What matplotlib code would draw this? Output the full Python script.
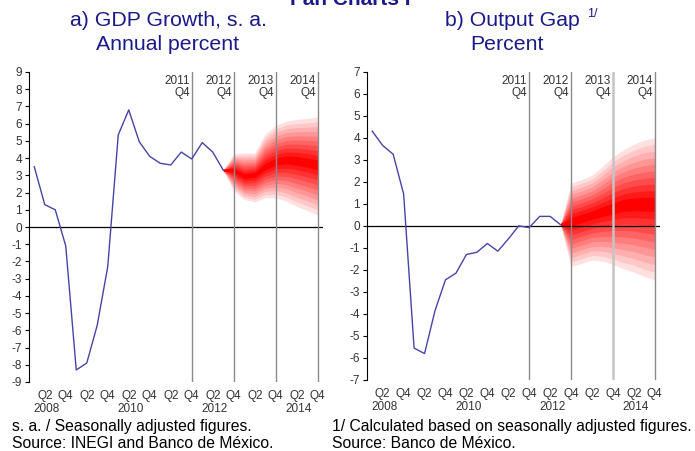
import matplotlib
matplotlib.use('Agg')
import matplotlib.pyplot as plt
import numpy as np

plt.rcParams['font.family'] = ['Liberation Sans', 'DejaVu Sans']
plt.rcParams['axes.unicode_minus'] = False

# quarters 2008Q1 .. 2014Q4
quarters = [f'{y}Q{q}' for y in range(2008, 2015) for q in range(1, 5)]

# a) GDP growth, observed 2008Q1 .. 2012Q3
gdp_obs = [3.5, 1.3, 1.0, -1.1, -8.3, -7.9, -5.7, -2.3, 5.35, 6.8, 4.95, 4.1,
           3.7, 3.6, 4.35, 3.95, 4.9, 4.35, 3.3]
# fan 2012Q3 .. 2014Q4
gdp_mid = [3.3, 3.3, 2.95, 3.05, 3.5, 3.8, 3.9, 3.85, 3.75, 3.6]
gdp_up = [3.3, 4.25, 4.3, 4.3, 5.4, 5.9, 6.15, 6.25, 6.3, 6.4]
gdp_lo = [3.3, 2.1, 1.6, 1.45, 1.7, 1.7, 1.5, 1.2, 0.95, 0.7]

# b) Output gap, observed 2008Q1 .. 2012Q3
gap_obs = [4.3, 3.65, 3.25, 1.45, -5.55, -5.8, -3.85, -2.45, -2.15, -1.3, -1.2,
           -0.8, -1.15, -0.6, 0.0, -0.08, 0.43, 0.43, 0.05]
gap_mid = [0.05, 0.2, 0.35, 0.5, 0.65, 0.8, 0.95, 1.0, 1.0, 1.0]
gap_up = [0.05, 1.95, 2.1, 2.3, 2.7, 3.15, 3.45, 3.7, 3.9, 4.0]
gap_lo = [0.05, -1.85, -1.7, -1.55, -1.6, -1.75, -1.95, -2.1, -2.3, -2.45]

# fan band levels (share of distance from central path to outer bound)
levels = [1.0, 0.9, 0.8, 0.7, 0.6, 0.5, 0.4, 0.3, 0.2, 0.1]

vlines = ['2011Q4', '2012Q4', '2013Q4', '2014Q4']
navy = '#1a1a8a'
line_col = '#4545a8'
txt_col = '#333333'


def fan_chart(ax, obs, mid, up, lo, ylim, light_idx=None):
    x_obs = np.arange(len(obs))
    x_fan = np.arange(len(obs) - 1, len(obs) - 1 + len(mid))
    mid = np.array(mid)
    up = np.array(up)
    lo = np.array(lo)
    n = len(levels)
    for i, lv in enumerate(levels):
        t = i / (n - 1)
        g = 0.88 * (1 - t)
        ax.fill_between(x_fan, mid - lv * (mid - lo), mid + lv * (up - mid),
                        color=(1, g, g), lw=0, zorder=2)
    ax.fill_between(x_fan, mid - 0.08, mid + 0.08, color='#ff0000', lw=0, zorder=2)
    ax.plot(x_obs, obs, color=line_col, lw=1.0, zorder=4)

    ax.axhline(0, color='black', lw=0.9, zorder=3)
    for k, q in enumerate(vlines):
        xi = quarters.index(q)
        c = '#c4c4c4' if k == light_idx else '#8a8a8a'
        w = 1.8 if k == light_idx else 1.0
        ax.axvline(xi, color=c, lw=w, zorder=3)
        ax.text(xi - 0.2, 0.99, q[:4] + '\n' + q[4:], transform=ax.get_xaxis_transform(),
                ha='right', va='top', fontsize=8.5, color=txt_col, linespacing=1.0)

    ax.set_xlim(-0.5, len(quarters) - 0.5)
    ax.set_ylim(*ylim)
    ax.set_yticks(range(ylim[0], ylim[1] + 1))
    ax.tick_params(axis='y', labelsize=8.5, length=3, width=0.8, pad=2, labelcolor=txt_col)
    ax.tick_params(axis='x', length=0)
    ax.set_xticks([])
    for s in ['top', 'right', 'bottom']:
        ax.spines[s].set_visible(False)
    ax.spines['left'].set_linewidth(0.8)

    # quarter labels
    for i, q in enumerate(quarters):
        if q[-1] in '24':
            ax.text(i, -0.045, q[4:], transform=ax.get_xaxis_transform(),
                    ha='center', va='center', fontsize=8.5, color=txt_col)
        if q[-2:] == 'Q2' and int(q[:4]) % 2 == 0:
            ax.text(i + 0.2, -0.088, q[:4], transform=ax.get_xaxis_transform(),
                    ha='center', va='center', fontsize=8.5, color=txt_col)


fig = plt.figure(figsize=(6.95, 4.51), dpi=100)
ax1 = fig.add_axes([29 / 695, 1 - 382 / 451, 294 / 695, 310 / 451])
ax2 = fig.add_axes([367 / 695, 1 - 380 / 451, 293 / 695, 308.3 / 451])

fan_chart(ax1, gdp_obs, gdp_mid, gdp_up, gdp_lo, (-9, 9))
fan_chart(ax2, gap_obs, gap_mid, gap_up, gap_lo, (-7, 7), light_idx=2)

fig.text(350 / 695, 1 - 5 / 451, 'Fan Charts I', ha='center', va='baseline',
         fontsize=15, fontweight='bold', color=navy)
fig.text(168 / 695, 1 - 21 / 451, 'a) GDP Growth, s. a.', ha='center', va='center',
         fontsize=15.3, color=navy)
fig.text(168 / 695, 1 - 45 / 451, 'Annual percent', ha='center', va='center',
         fontsize=15.3, color=navy)
fig.text(445 / 695, 1 - 21 / 451, 'b) Output Gap', ha='left', va='center',
         fontsize=15.3, color=navy)
fig.text(587 / 695, 1 - 14 / 451, '1/', ha='left', va='center',
         fontsize=9, color=navy)
fig.text(507 / 695, 1 - 45 / 451, 'Percent', ha='center', va='center',
         fontsize=15.3, color=navy)

fig.text(12 / 695, 1 - 427 / 451, 's. a. / Seasonally adjusted figures.', ha='left',
         va='center', fontsize=11.3)
fig.text(12 / 695, 1 - 444 / 451, 'Source: INEGI and Banco de México.', ha='left',
         va='center', fontsize=11.3)
fig.text(332 / 695, 1 - 427 / 451, '1/ Calculated based on seasonally adjusted figures.',
         ha='left', va='center', fontsize=11.3)
fig.text(332 / 695, 1 - 444 / 451, 'Source: Banco de México.', ha='left',
         va='center', fontsize=11.3)

fig.savefig('out.png', dpi=100)
